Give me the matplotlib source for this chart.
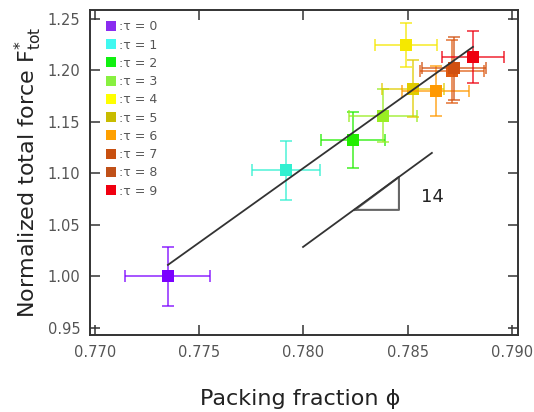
import matplotlib
matplotlib.use("Agg")
import matplotlib.pyplot as plt
from matplotlib.lines import Line2D

# ---- data ----
taus = [0, 1, 2, 3, 4, 5, 6, 7, 8, 9]
phi = [0.7735, 0.77916, 0.78237, 0.78381, 0.78492, 0.78525, 0.78635, 0.78712, 0.78722, 0.78813]
F = [1.000, 1.103, 1.1325, 1.156, 1.225, 1.182, 1.180, 1.199, 1.202, 1.213]
phi_err = [0.00204, 0.00165, 0.00153, 0.00163, 0.0015, 0.0015, 0.0016, 0.00153, 0.00153, 0.0015]
F_err = [0.029, 0.0286, 0.027, 0.026, 0.0214, 0.0277, 0.024, 0.0306, 0.0306, 0.0248]
colors = ["#7b00ff", "#30f0d0", "#22ee00", "#99ee22", "#f5e800",
          "#e0cc00", "#ff9900", "#e05a10", "#d05010", "#ee0010"]
legend_colors = ["#8a2cf0", "#40f8f0", "#10f010", "#88f040", "#ffff00",
                 "#c8bc00", "#ffa000", "#c85010", "#c05018", "#f00010"]

fit_x = [0.7735, 0.78813]
fit_y = [1.0112, 1.2228]
guide_x = [0.77998, 0.78616]
guide_y = [1.0286, 1.1199]
tri_x = [0.78247, 0.78458, 0.78458]
tri_y = [1.0646, 1.0646, 1.0966]
slope_label = "14"

xticks = [0.770, 0.775, 0.780, 0.785, 0.790]
yticks = [0.95, 1.00, 1.05, 1.10, 1.15, 1.20, 1.25]

fig = plt.figure(figsize=(5.34, 4.12), dpi=100)
ax = fig.add_axes([0.1685, 0.187, 0.8015, 0.789])

for i in range(len(taus)):
    ax.errorbar(phi[i], F[i], xerr=phi_err[i], yerr=F_err[i], fmt="none",
                ecolor=colors[i], elinewidth=1.1, capsize=4.3, capthick=1.1,
                alpha=0.85, zorder=3 + i)
    ax.plot(phi[i], F[i], marker="s", markersize=8.5, color=colors[i],
            markeredgewidth=0, linestyle="none", zorder=3 + i)

ax.plot(fit_x, fit_y, color="#333333", lw=1.3, zorder=20)
ax.plot(guide_x, guide_y, color="#333333", lw=1.3, zorder=20)
ax.plot(tri_x + [tri_x[0]], tri_y + [tri_y[0]], color="#666666", lw=1.5, zorder=19)
ax.text(0.78565, 1.077, slope_label, fontsize=13, color="#222222", va="center", ha="left")

ax.set_xlim(0.76976, 0.79029)
ax.set_ylim(0.9432, 1.2587)
ax.set_xticks(xticks)
ax.set_xticklabels([f"{v:.3f}" for v in xticks])
ax.set_yticks(yticks)
ax.set_yticklabels([f"{v:.2f}" for v in yticks])
ax.tick_params(direction="in", length=7, width=1.1, top=True, right=True,
               labelsize=10.5, labelcolor="#555555", color="#333333", pad=7)
for s in ax.spines.values():
    s.set_linewidth(1.4)
    s.set_color("#333333")

ax.set_xlabel("Packing fraction ϕ", fontsize=16, color="#222222")
ax.xaxis.set_label_coords(0.49, -0.165)
ax.set_ylabel(r"Normalized total force F$^{*}_{\mathrm{tot}}$", fontsize=16, color="#222222")
ax.yaxis.set_label_coords(-0.108, 0.5)

handles = [Line2D([], [], marker="s", linestyle="none", markersize=7.5,
                  color=legend_colors[i], markeredgewidth=0) for i in range(len(taus))]
labels = [f":τ = {t}" for t in taus]
leg = ax.legend(handles, labels, loc="upper left", bbox_to_anchor=(0.01, 0.995),
                frameon=False, fontsize=9, labelspacing=0.42, handletextpad=0.1,
                handlelength=1.2, borderpad=0.2)
for t in leg.get_texts():
    t.set_color("#555555")

fig.savefig("out.png", dpi=100)
